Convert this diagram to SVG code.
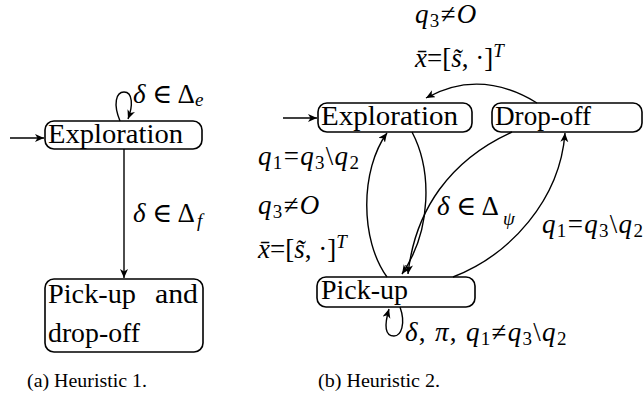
<svg xmlns="http://www.w3.org/2000/svg" width="644" height="398" viewBox="0 0 644 398">
<style>
text{font-family:"Liberation Serif","DejaVu Serif",serif}
.n{font-size:27px}
.m{font-size:27px}
.w{letter-spacing:1.3px}
.i{font-style:italic}
.s{font-size:19px}
.c{font-size:18px}
.box{fill:#fff;stroke:#000;stroke-width:1.6}
.e{fill:none;stroke:#000;stroke-width:1.4}
</style>
<defs>
<marker id="ah" markerWidth="12" markerHeight="10" refX="9" refY="4" orient="auto" markerUnits="userSpaceOnUse">
<path d="M0,0 L9,4 L0,8 L2.5,4 z" fill="#000"/>
</marker>
</defs>
<g id="a-exploration">
<rect class="box" x="45" y="121" width="157" height="28" rx="9"/>
<text class="n" x="48" y="143" textLength="135" lengthAdjust="spacingAndGlyphs">Exploration</text>
</g>
<g id="a-pickup-dropoff">
<rect class="box" x="45" y="279" width="158" height="73" rx="9"/>
<text class="n" x="48" y="303" textLength="88" lengthAdjust="spacingAndGlyphs">Pick-up</text>
<text class="n" x="155" y="303" textLength="43" lengthAdjust="spacingAndGlyphs">and</text>
<text class="n" x="48" y="342" textLength="92" lengthAdjust="spacingAndGlyphs">drop-off</text>
</g>
<g id="b-exploration">
<rect class="box" x="318" y="103" width="154" height="29" rx="9"/>
<text class="n" x="321" y="125" textLength="137" lengthAdjust="spacingAndGlyphs">Exploration</text>
</g>
<g id="b-dropoff">
<rect class="box" x="492" y="103" width="150" height="29" rx="9"/>
<text class="n" x="495" y="125" textLength="96" lengthAdjust="spacingAndGlyphs">Drop-off</text>
</g>
<g id="b-pickup">
<rect class="box" x="317" y="277" width="158" height="30" rx="9"/>
<text class="n" x="321" y="299" textLength="87" lengthAdjust="spacingAndGlyphs">Pick-up</text>
</g>
<g id="connectors">
<line class="e" x1="10" y1="138" x2="44" y2="138" marker-end="url(#ah)"/>
<path class="e" d="M120,121 C113,104 116,92 124,92 C133,92 133,106 128,119" marker-end="url(#ah)"/>
<line class="e" x1="124" y1="149" x2="124" y2="278" marker-end="url(#ah)"/>
<line class="e" x1="283" y1="118" x2="317" y2="118" marker-end="url(#ah)"/>
<path class="e" d="M537,103 Q480,68 426,98" marker-end="url(#ah)"/>
<path class="e" d="M387,277 C360,240 360,170 387,133" marker-end="url(#ah)"/>
<path class="e" d="M412,132 C432,170 432,230 402,274" marker-end="url(#ah)"/>
<path class="e" d="M512,132 C450,160 415,210 408,274" marker-end="url(#ah)"/>
<path class="e" d="M453,277 C510,255 560,200 565,133" marker-end="url(#ah)"/>
<path class="e" d="M400,307 C406,324 401,336 394,336 C385,336 384,326 389,309" marker-end="url(#ah)"/>
</g>
<g id="labels">
<text class="m" x="133" y="103"><tspan class="i">δ</tspan> ∈ Δ<tspan class="i s" dy="3">e</tspan></text>
<text class="m" x="133" y="222"><tspan class="i">δ</tspan> ∈ Δ<tspan class="i s" dy="5" dx="2">f</tspan></text>
<text class="m w" x="415" y="23"><tspan class="i">q</tspan><tspan class="s" dy="4">3</tspan><tspan dy="-4">≠</tspan><tspan class="i">O</tspan></text>
<text class="m" x="415" y="67"><tspan class="i">x̄</tspan>=[<tspan class="i">s̃</tspan>, ·]<tspan class="i s" dy="-10">T</tspan></text>
<text class="m w" x="258" y="165"><tspan class="i">q</tspan><tspan class="s" dy="4">1</tspan><tspan dy="-4">=</tspan><tspan class="i">q</tspan><tspan class="s" dy="4">3</tspan><tspan dy="-4">\</tspan><tspan class="i">q</tspan><tspan class="s" dy="4">2</tspan></text>
<text class="m w" x="258" y="214"><tspan class="i">q</tspan><tspan class="s" dy="4">3</tspan><tspan dy="-4">≠</tspan><tspan class="i">O</tspan></text>
<text class="m" x="258" y="258"><tspan class="i">x̄</tspan>=[<tspan class="i">s̃</tspan>, ·]<tspan class="i s" dy="-10">T</tspan></text>
<text class="m" x="437" y="215"><tspan class="i">δ</tspan> ∈ Δ<tspan class="i s" dy="10" dx="4">ψ</tspan></text>
<text class="m w" x="542" y="233"><tspan class="i">q</tspan><tspan class="s" dy="4">1</tspan><tspan dy="-4">=</tspan><tspan class="i">q</tspan><tspan class="s" dy="4">3</tspan><tspan dy="-4">\</tspan><tspan class="i">q</tspan><tspan class="s" dy="4">2</tspan></text>
<text class="m w" x="405" y="341"><tspan class="i">δ</tspan>, <tspan class="i">π</tspan>, <tspan class="i">q</tspan><tspan class="s" dy="4">1</tspan><tspan dy="-4">≠</tspan><tspan class="i">q</tspan><tspan class="s" dy="4">3</tspan><tspan dy="-4">\</tspan><tspan class="i">q</tspan><tspan class="s" dy="4">2</tspan></text>
<text class="c" x="27" y="387" textLength="120" lengthAdjust="spacingAndGlyphs">(a) Heuristic 1.</text>
<text class="c" x="318" y="387" textLength="122" lengthAdjust="spacingAndGlyphs">(b) Heuristic 2.</text>
</g>
</svg>
